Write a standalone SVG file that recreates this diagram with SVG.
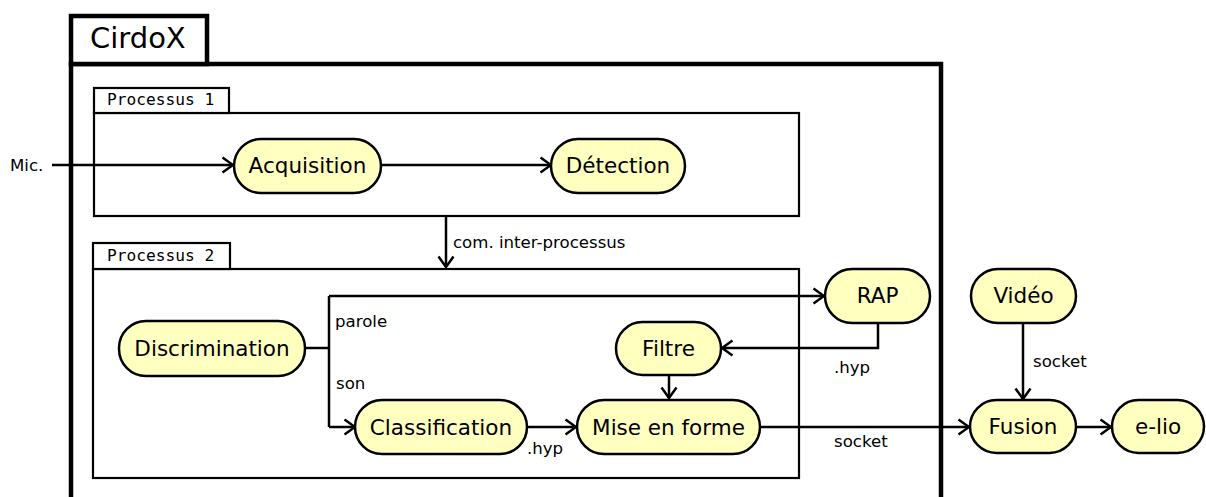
<svg xmlns="http://www.w3.org/2000/svg" width="1206" height="497" viewBox="0 0 1206 497">
<style>
.frame{fill:none;stroke:#000;stroke-width:4.5}
.tabf{fill:#fff;stroke:#000;stroke-width:4.5}
.pbox{fill:none;stroke:#000;stroke-width:2.2}
.ptab{fill:#fff;stroke:#000;stroke-width:2.2}
.node rect{fill:#ffffc0;stroke:#000;stroke-width:2.5}
.node text{font-family:"DejaVu Sans",sans-serif;font-size:21.5px;text-anchor:middle;fill:#000}
.lbl{font-family:"DejaVu Sans",sans-serif;font-size:16.6px;fill:#000}
.mono{font-family:"DejaVu Sans Mono",monospace;font-size:16.2px;fill:#000}
.conn path{fill:none;stroke:#000;stroke-width:2.5}
</style>
<defs>
<marker id="arr" markerWidth="14" markerHeight="18" refX="12" refY="9" orient="auto" markerUnits="userSpaceOnUse">
<path d="M1.5,1.5 L12,9 L1.5,16.5" fill="none" stroke="#000" stroke-width="2.5"/>
</marker>
</defs>
<rect width="1206" height="497" fill="#fff"/>
<g id="cirdox">
<path class="frame" d="M71,500 L71,64 L941,64 L941,500"/>
<rect class="tabf" x="71" y="16" width="136" height="48"/>
<text x="90" y="48" style="font-family:'DejaVu Sans',sans-serif;font-size:29px">CirdoX</text>
</g>
<g id="processus1">
<rect class="pbox" x="94" y="113" width="705" height="103"/>
<rect class="ptab" x="94" y="88" width="135" height="25"/>
<text class="mono" x="107" y="105">Processus 1</text>
</g>
<g id="processus2">
<rect class="pbox" x="93" y="269" width="706" height="209"/>
<rect class="ptab" x="93" y="243" width="137" height="26"/>
<text class="mono" x="107" y="261">Processus 2</text>
</g>
<g class="conn" id="connectors">
<path d="M52,165 L233,165" marker-end="url(#arr)"/>
<path d="M381,165 L551,165" marker-end="url(#arr)"/>
<path d="M446,217 L446,267" marker-end="url(#arr)"/>
<path d="M305,348 L329,348"/>
<path d="M329,296 L329,427"/>
<path d="M329,296 L824,296" marker-end="url(#arr)"/>
<path d="M329,427 L355,427" marker-end="url(#arr)"/>
<path d="M527,427 L576,427" marker-end="url(#arr)"/>
<path d="M669,375 L669,398" marker-end="url(#arr)"/>
<path d="M878,323 L878,348 L722,348" marker-end="url(#arr)"/>
<path d="M760,427 L969,427" marker-end="url(#arr)"/>
<path d="M1023,323 L1023,399" marker-end="url(#arr)"/>
<path d="M1076,427 L1111,427" marker-end="url(#arr)"/>
</g>
<g id="labels">
<text class="lbl" x="10" y="171">Mic.</text>
<text class="lbl" x="453" y="248">com. inter-processus</text>
<text class="lbl" x="335" y="327">parole</text>
<text class="lbl" x="336" y="389">son</text>
<text class="lbl" x="527" y="454">.hyp</text>
<text class="lbl" x="834" y="373">.hyp</text>
<text class="lbl" x="834" y="447">socket</text>
<text class="lbl" x="1033" y="367">socket</text>
</g>
<g class="node" id="acquisition"><rect x="234" y="139" width="147" height="54" rx="27"/><text x="307.5" y="173">Acquisition</text></g>
<g class="node" id="detection"><rect x="551" y="139" width="134" height="54" rx="27"/><text x="618" y="173">Détection</text></g>
<g class="node" id="discrimination"><rect x="119" y="321" width="186" height="55" rx="27"/><text x="212" y="356">Discrimination</text></g>
<g class="node" id="classification"><rect x="355" y="400" width="172" height="54" rx="27"/><text x="441" y="435">Classification</text></g>
<g class="node" id="miseenforme"><rect x="577" y="400" width="183" height="54" rx="27"/><text x="668.5" y="435">Mise en forme</text></g>
<g class="node" id="filtre"><rect x="616" y="322" width="105" height="53" rx="26.5"/><text x="668.5" y="356">Filtre</text></g>
<g class="node" id="rap"><rect x="825" y="269" width="105" height="54" rx="27"/><text x="877.5" y="303">RAP</text></g>
<g class="node" id="video"><rect x="971" y="269" width="105" height="54" rx="27"/><text x="1023.5" y="303">Vidéo</text></g>
<g class="node" id="fusion"><rect x="970" y="400" width="106" height="53" rx="26.5"/><text x="1023" y="434">Fusion</text></g>
<g class="node" id="elio"><rect x="1112" y="400" width="92" height="53" rx="26.5"/><text x="1158" y="434">e-lio</text></g>
</svg>
